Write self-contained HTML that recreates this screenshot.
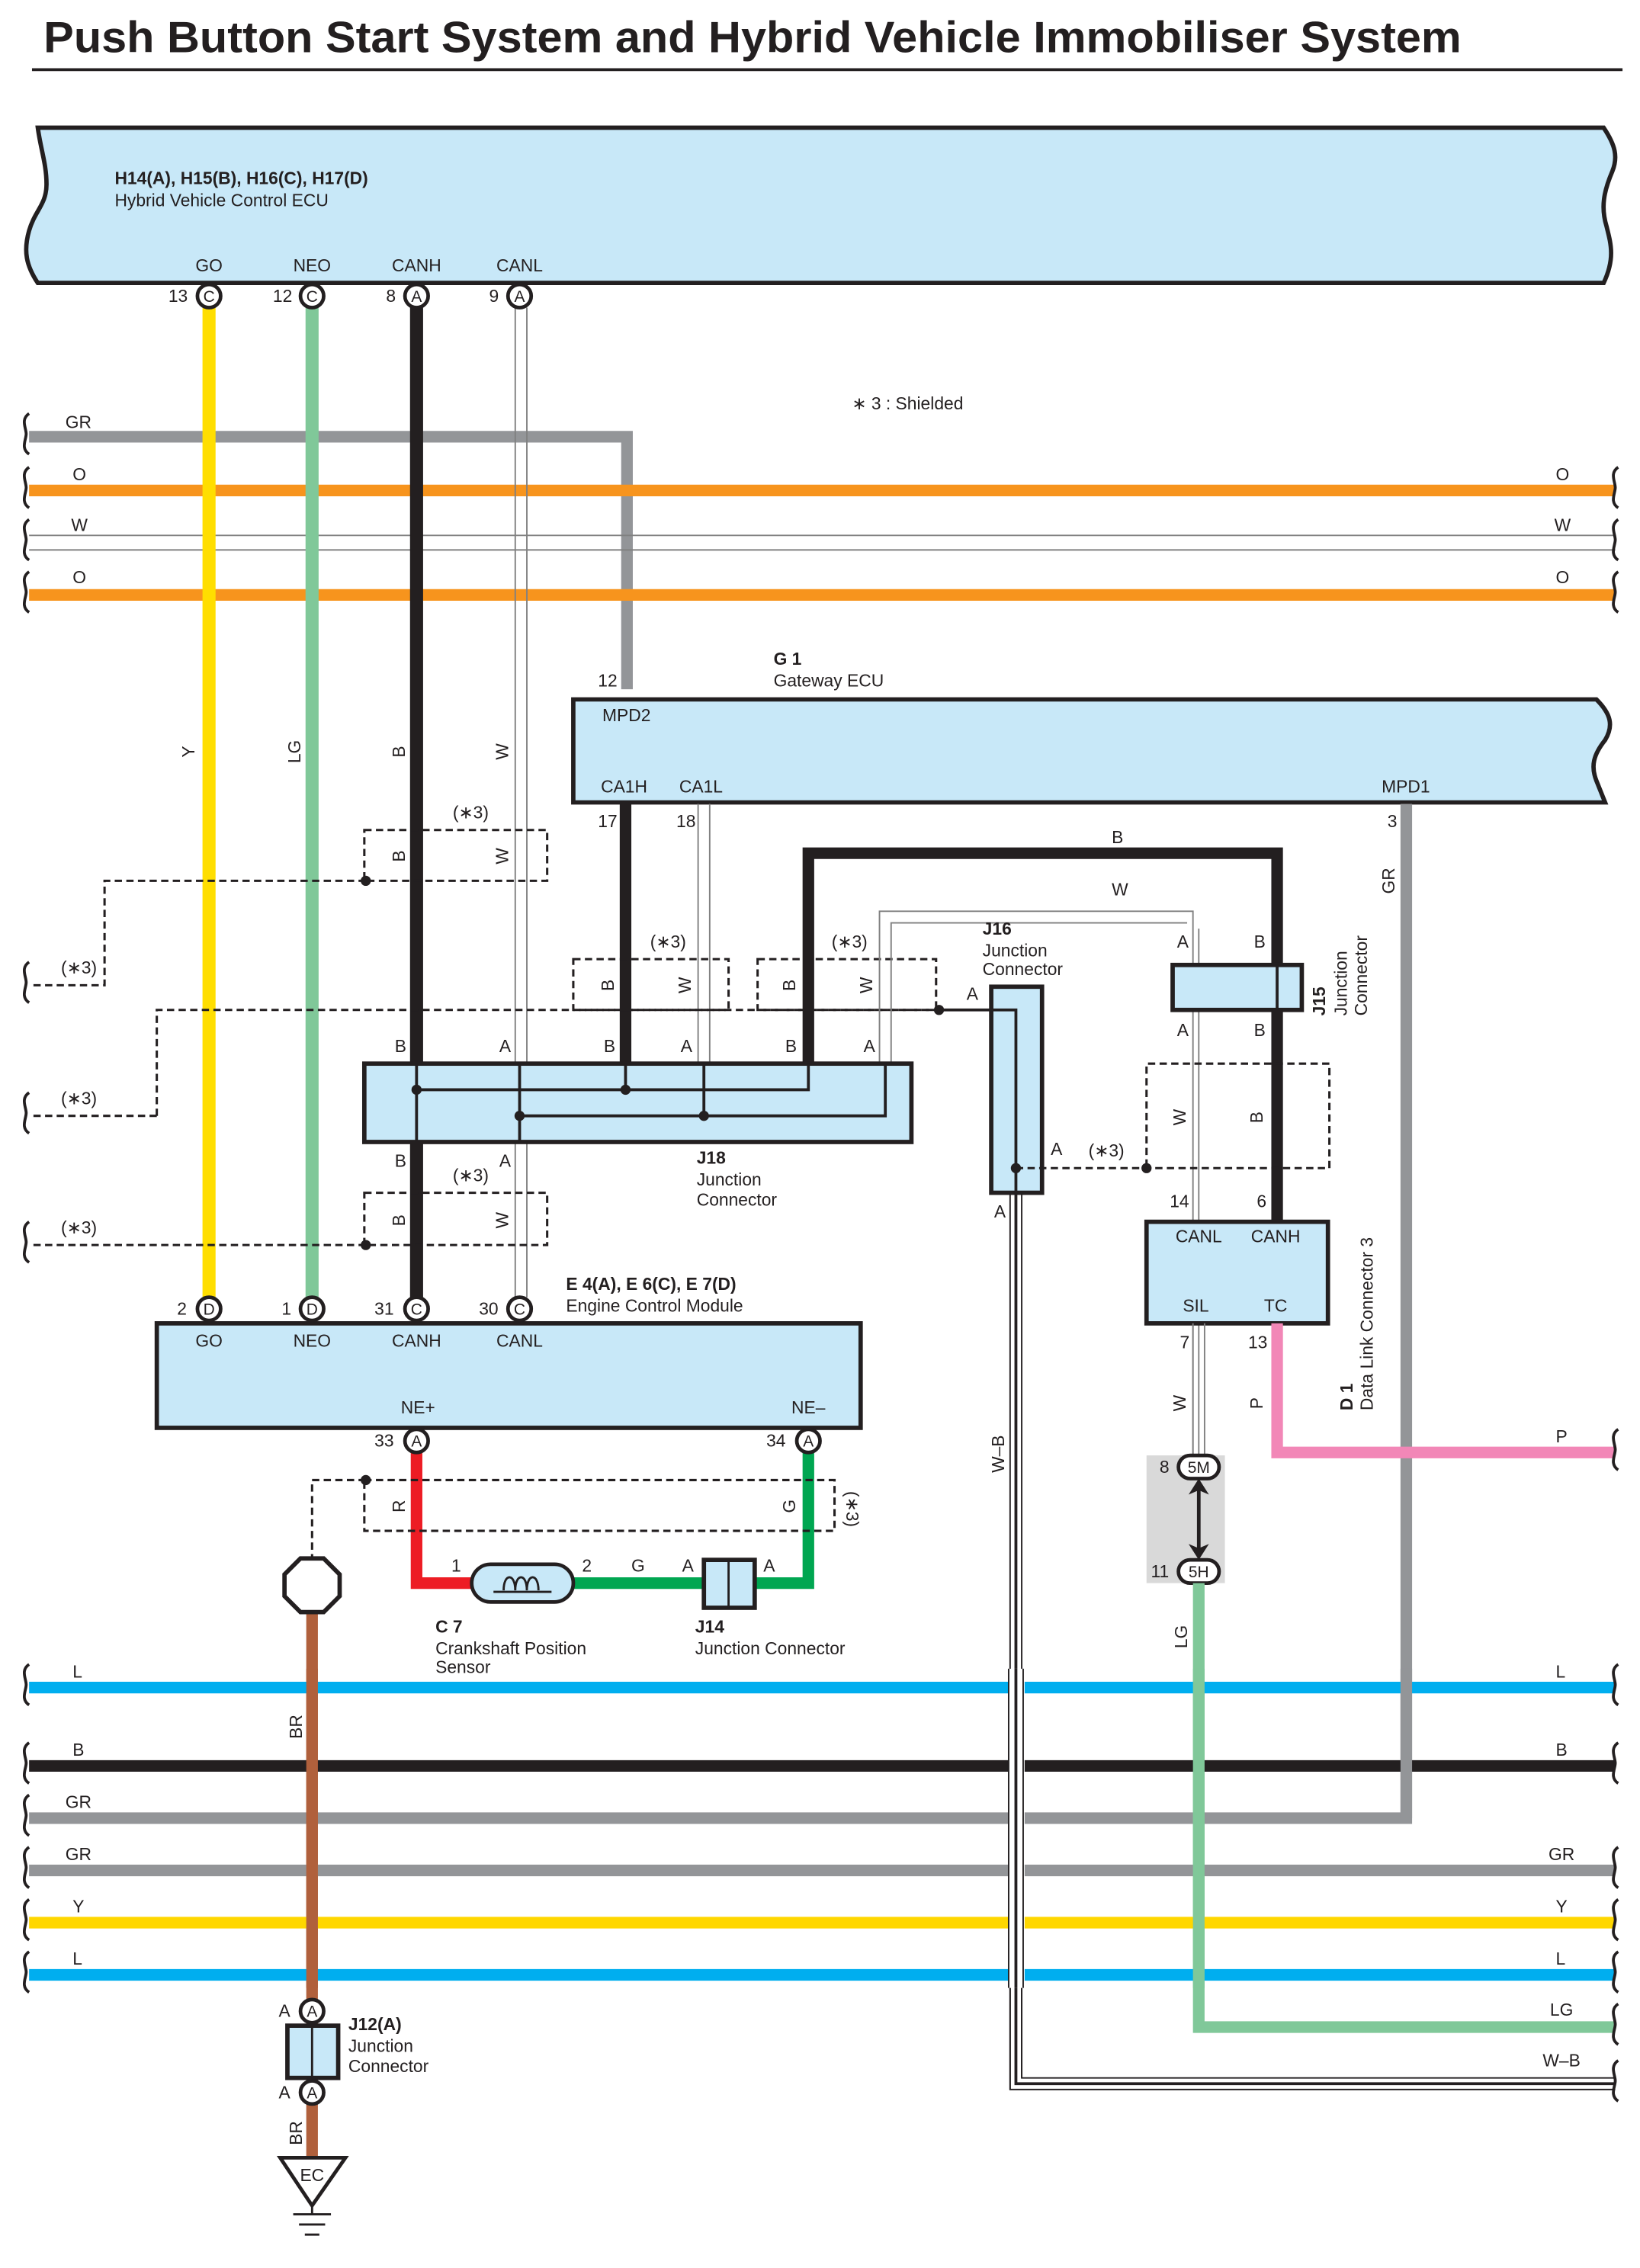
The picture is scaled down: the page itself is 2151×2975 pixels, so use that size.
<!DOCTYPE html>
<html><head><meta charset="utf-8"><style>
html,body{margin:0;padding:0;background:#fff}
svg{display:block}
text{font-family:"Liberation Sans",Arial,sans-serif;font-size:12px;fill:#231f20}
.b{font-weight:bold}
.c{text-anchor:middle}
.box{fill:#c8e8f8;stroke:#231f20;stroke-width:3}
.dash{fill:none;stroke:#231f20;stroke-width:1.6;stroke-dasharray:5,3}
.brk{fill:none;stroke:#231f20;stroke-width:2}
</style></head><body>
<svg width="2151" height="2975" viewBox="0 0 1130 1563" xmlns="http://www.w3.org/2000/svg">
<defs>
<g id="brk"><path class="brk" d="M0,-16 c-6,4 -2,10 -2,14 c0,4 -4,10 2,14"/></g>
</defs>
<text x="30" y="36" class="b" style="font-size:30px" textLength="977" lengthAdjust="spacingAndGlyphs">Push Button Start System and Hybrid Vehicle Immobiliser System</text>
<line x1="22" y1="48" x2="1118" y2="48" stroke="#231f20" stroke-width="2"/>

<!-- HV ECU -->
<path class="box" d="M26,88 H1105 c8,12 10,20 6,30 c-6,14 -8,25 -4,38 c3,12 6,22 -2,39 H26 c-8,-12 -10,-22 -6,-36 c4,-14 12,-18 12,-32 c0,-14 -4,-24 -6,-39 Z"/>
<text x="79" y="127" class="b">H14(A), H15(B), H16(C), H17(D)</text>
<text x="79" y="142">Hybrid Vehicle Control ECU</text>
<text x="144" y="187" class="c">GO</text><text x="215" y="187" class="c">NEO</text>
<text x="287" y="187" class="c">CANH</text><text x="358" y="187" class="c">CANL</text>

<!-- horizontal top wires -->
<path d="M20,301 H432 V475" fill="none" stroke="#939598" stroke-width="8"/>
<line x1="20" y1="338" x2="1113" y2="338" stroke="#f7941d" stroke-width="8"/>
<line x1="20" y1="369" x2="1113" y2="369" stroke="#808080" stroke-width="1"/>
<line x1="20" y1="379" x2="1113" y2="379" stroke="#808080" stroke-width="1"/>
<line x1="20" y1="410" x2="1113" y2="410" stroke="#f7941d" stroke-width="8"/>
<text x="45" y="295">GR</text><text x="50" y="331">O</text><text x="49" y="366">W</text><text x="50" y="402">O</text>
<text x="1072" y="331">O</text><text x="1071" y="366">W</text><text x="1072" y="402">O</text>
<use href="#brk" x="20" y="301"/><use href="#brk" x="20" y="338"/><use href="#brk" x="20" y="374"/><use href="#brk" x="20" y="410"/>
<use href="#brk" x="1115" y="338"/><use href="#brk" x="1115" y="374"/><use href="#brk" x="1115" y="410"/>
<text x="587" y="282">∗ 3 : Shielded</text>

<!-- vertical wires -->
<line x1="144" y1="212" x2="144" y2="894" stroke="#ffde00" stroke-width="9"/>
<line x1="215" y1="212" x2="215" y2="894" stroke="#80c899" stroke-width="9"/>
<line x1="287" y1="212" x2="287" y2="894" stroke="#231f20" stroke-width="9"/>
<line x1="355" y1="212" x2="355" y2="894" stroke="#808080" stroke-width="1"/>
<line x1="363" y1="212" x2="363" y2="894" stroke="#808080" stroke-width="1"/>
<text transform="translate(134,518) rotate(-90)" class="c">Y</text>
<text transform="translate(207,518) rotate(-90)" class="c">LG</text>
<text transform="translate(279,518) rotate(-90)" class="c">B</text>
<text transform="translate(350,518) rotate(-90)" class="c">W</text>

<!-- top pins -->
<g stroke="#231f20" stroke-width="2.5" fill="#fff">
<circle cx="144" cy="204" r="8"/><circle cx="215" cy="204" r="8"/><circle cx="287" cy="204" r="8"/><circle cx="358" cy="204" r="8"/>
</g>
<text x="144" y="208" class="c" style="font-size:11px">C</text><text x="215" y="208" class="c" style="font-size:11px">C</text>
<text x="287" y="208" class="c" style="font-size:11px">A</text><text x="358" y="208" class="c" style="font-size:11px">A</text>
<text x="116" y="208">13</text><text x="188" y="208">12</text><text x="266" y="208">8</text><text x="337" y="208">9</text>

<!-- Gateway -->
<path class="box" d="M395,482 H1100 c10,10 12,18 6,28 c-8,10 -10,18 -6,28 l6,15 H395 Z"/>
<text x="533" y="458" class="b">G 1</text><text x="533" y="473">Gateway ECU</text>
<text x="412" y="473">12</text><text x="415" y="497">MPD2</text>
<text x="414" y="546">CA1H</text><text x="468" y="546">CA1L</text><text x="952" y="546">MPD1</text>
<text x="412" y="570">17</text><text x="466" y="570">18</text><text x="956" y="570">3</text>
<line x1="431" y1="554" x2="431" y2="733" stroke="#231f20" stroke-width="8"/>
<line x1="481" y1="554" x2="481" y2="733" stroke="#808080" stroke-width="1"/>
<line x1="489" y1="554" x2="489" y2="733" stroke="#808080" stroke-width="1"/>
<path d="M969,554 V1253 H20" fill="none" stroke="#939598" stroke-width="8"/>
<text transform="translate(961,607) rotate(-90)" class="c">GR</text>

<!-- shields -->
<rect class="dash" x="251" y="572" width="126" height="35" fill="none"/>
<text x="312" y="564">(∗3)</text>
<text transform="translate(279,590) rotate(-90)" class="c">B</text><text transform="translate(350,590) rotate(-90)" class="c">W</text>
<path class="dash" d="M252,607 H72 V679 H20"/><circle cx="252" cy="607" r="3.5" fill="#231f20"/>
<text x="42" y="671">(∗3)</text><use href="#brk" x="20" y="679"/>

<rect class="dash" x="395" y="661" width="107" height="35"/>
<text x="448" y="653">(∗3)</text>
<text transform="translate(423,679) rotate(-90)" class="c">B</text><text transform="translate(476,679) rotate(-90)" class="c">W</text>
<rect class="dash" x="522" y="661" width="123" height="35"/>
<text x="573" y="653">(∗3)</text>
<text transform="translate(548,679) rotate(-90)" class="c">B</text><text transform="translate(601,679) rotate(-90)" class="c">W</text>
<path class="dash" d="M108,769 V696 H700"/><circle cx="647" cy="696" r="3.5" fill="#231f20"/>
<path class="dash" d="M108,769 H20"/><text x="42" y="761">(∗3)</text><use href="#brk" x="20" y="769"/>

<!-- B / W to J15 -->
<path d="M557,733 V588 H880 V843" fill="none" stroke="#231f20" stroke-width="8"/>
<path d="M606,733 V628 H822 V1003 M614,733 V636 H818" fill="none" stroke="#808080" stroke-width="1"/>
<line x1="826" y1="640" x2="826" y2="1003" stroke="#808080" stroke-width="1"/>
<text x="766" y="581">B</text><text x="766" y="617">W</text>

<!-- J18 -->
<rect class="box" x="251" y="733" width="377" height="54"/>
<path d="M287,733 V787 M287,751 H557 V733 M358,733 V787 M358,769 H610 V733 M431,733 V751 M485,733 V769" fill="none" stroke="#231f20" stroke-width="2"/>
<g fill="#231f20"><circle cx="287" cy="751" r="3.5"/><circle cx="358" cy="769" r="3.5"/><circle cx="431" cy="751" r="3.5"/><circle cx="485" cy="769" r="3.5"/></g>
<text x="272" y="725">B</text><text x="344" y="725">A</text><text x="416" y="725">B</text><text x="469" y="725">A</text><text x="541" y="725">B</text><text x="595" y="725">A</text>
<text x="272" y="804">B</text><text x="344" y="804">A</text>
<text x="480" y="802" class="b">J18</text><text x="480" y="817">Junction</text><text x="480" y="831">Connector</text>

<rect class="dash" x="251" y="822" width="126" height="36"/>
<text x="312" y="814">(∗3)</text>
<text transform="translate(279,841) rotate(-90)" class="c">B</text><text transform="translate(350,841) rotate(-90)" class="c">W</text>
<path class="dash" d="M252,858 H20"/><circle cx="252" cy="858" r="3.5" fill="#231f20"/>
<text x="42" y="850">(∗3)</text><use href="#brk" x="20" y="858"/>

<!-- J16 & W-B -->
<path d="M696,822 V1440 H1113 M704,822 V1432 H1113" fill="none" stroke="#231f20" stroke-width="1"/>
<rect x="697" y="1160" width="6" height="272" fill="#fff"/>
<rect class="box" x="683" y="680" width="35" height="142"/>
<path d="M647,696 H700 V1436 H1113" fill="none" stroke="#231f20" stroke-width="2"/>
<path d="M696,1160 V1440 M704,1160 V1432" stroke="#231f20" stroke-width="1"/>
<circle cx="700" cy="805" r="3.5" fill="#231f20"/>
<path class="dash" d="M700,805 H916 V733 H790 V805"/><circle cx="790" cy="805" r="3.5" fill="#231f20"/>
<text x="677" y="644" class="b">J16</text><text x="677" y="659">Junction</text><text x="677" y="672">Connector</text>
<text x="666" y="689">A</text><text x="724" y="796">A</text><text x="685" y="839">A</text>
<text x="750" y="797">(∗3)</text>
<text transform="translate(692,1002) rotate(-90)" class="c">W–B</text>
<text x="1063" y="1424">W–B</text><use href="#brk" x="1115" y="1436"/>

<!-- J15 -->
<rect class="box" x="808" y="665" width="89" height="31"/>
<line x1="880" y1="665" x2="880" y2="696" stroke="#231f20" stroke-width="2"/>
<text x="811" y="653">A</text><text x="864" y="653">B</text><text x="811" y="714">A</text><text x="864" y="714">B</text>
<text transform="translate(913,700) rotate(-90)" class="b">J15</text>
<text transform="translate(928,700) rotate(-90)">Junction</text>
<text transform="translate(942,700) rotate(-90)">Connector</text>
<text transform="translate(817,770) rotate(-90)" class="c">W</text><text transform="translate(870,770) rotate(-90)" class="c">B</text>

<!-- D1 -->
<rect class="box" x="790" y="842" width="125" height="70"/>
<text x="810" y="856">CANL</text><text x="862" y="856">CANH</text><text x="815" y="904">SIL</text><text x="871" y="904">TC</text>
<text x="806" y="832">14</text><text x="866" y="832">6</text><text x="813" y="929">7</text><text x="860" y="929">13</text>
<text transform="translate(932,972) rotate(-90)" class="b">D 1</text>
<text transform="translate(946,972) rotate(-90)">Data Link Connector 3</text>
<path d="M880,912 V1001 H1113" fill="none" stroke="#f287b7" stroke-width="8"/>
<text x="1072" y="994">P</text><use href="#brk" x="1115" y="1001"/>
<text transform="translate(817,967) rotate(-90)" class="c">W</text><text transform="translate(870,967) rotate(-90)" class="c">P</text>
<rect x="790" y="1003" width="54" height="88" fill="#d9d9d9"/>
<path d="M822,912 V1003 M830,912 V1003" stroke="#808080" stroke-width="1"/>
<rect x="812" y="1003" width="28" height="16" rx="8" fill="#fff" stroke="#231f20" stroke-width="2.5"/>
<text x="826" y="1015" class="c" style="font-size:11px">5M</text>
<rect x="812" y="1075" width="28" height="16" rx="8" fill="#fff" stroke="#231f20" stroke-width="2.5"/>
<text x="826" y="1087" class="c" style="font-size:11px">5H</text>
<text x="799" y="1015">8</text><text x="793" y="1087">11</text>
<line x1="826" y1="1026" x2="826" y2="1068" stroke="#231f20" stroke-width="2.5"/>
<path d="M819,1030 L826,1019 L833,1030 L826,1027 Z M819,1064 L826,1075 L833,1064 L826,1067 Z" fill="#231f20"/>
<path d="M826,1091 V1397 H1113" fill="none" stroke="#80c899" stroke-width="8"/>
<text transform="translate(818,1128) rotate(-90)" class="c">LG</text>
<text x="1068" y="1389">LG</text><use href="#brk" x="1115" y="1397"/>

<!-- ECM -->
<rect class="box" x="108" y="912" width="485" height="72"/>
<text x="390" y="889" class="b">E 4(A), E 6(C), E 7(D)</text><text x="390" y="904">Engine Control Module</text>
<text x="144" y="928" class="c">GO</text><text x="215" y="928" class="c">NEO</text><text x="287" y="928" class="c">CANH</text><text x="358" y="928" class="c">CANL</text>
<text x="288" y="974" class="c">NE+</text><text x="557" y="974" class="c">NE–</text>
<g stroke="#231f20" stroke-width="2.5" fill="#fff">
<circle cx="144" cy="902" r="8"/><circle cx="215" cy="902" r="8"/><circle cx="287" cy="902" r="8"/><circle cx="358" cy="902" r="8"/>
</g>
<text x="144" y="906" class="c" style="font-size:11px">D</text><text x="215" y="906" class="c" style="font-size:11px">D</text>
<text x="287" y="906" class="c" style="font-size:11px">C</text><text x="358" y="906" class="c" style="font-size:11px">C</text>
<text x="122" y="906">2</text><text x="194" y="906">1</text><text x="258" y="906">31</text><text x="330" y="906">30</text>

<!-- crank -->
<path d="M287,1001 V1091 H325" fill="none" stroke="#ed1c24" stroke-width="8"/>
<path d="M395,1091 H557 V1001" fill="none" stroke="#00a651" stroke-width="8"/>
<g stroke="#231f20" stroke-width="2.5" fill="#fff">
<circle cx="287" cy="993" r="8"/><circle cx="557" cy="993" r="8"/>
</g>
<text x="287" y="997" class="c" style="font-size:11px">A</text><text x="557" y="997" class="c" style="font-size:11px">A</text>
<text x="258" y="997">33</text><text x="528" y="997">34</text>
<rect class="dash" x="251" y="1020" width="324" height="35"/>
<path class="dash" d="M252,1020 H215 V1075"/><circle cx="252" cy="1020" r="3.5" fill="#231f20"/>
<text transform="translate(279,1038) rotate(-90)" class="c">R</text><text transform="translate(548,1038) rotate(-90)" class="c">G</text>
<text transform="translate(583,1040) rotate(90)" class="c">(∗3)</text>
<rect x="325" y="1078" width="70" height="26" rx="13" fill="#c8e8f8" stroke="#231f20" stroke-width="2.5"/>
<path d="M347,1096 c0,-12 8,-12 8,0 c0,-12 8,-12 8,0 c0,-12 8,-12 8,0" fill="none" stroke="#231f20" stroke-width="1.5"/>
<line x1="340" y1="1097" x2="380" y2="1097" stroke="#231f20" stroke-width="1.5"/>
<rect class="box" x="485" y="1075" width="35" height="33"/>
<line x1="502" y1="1075" x2="502" y2="1108" stroke="#231f20" stroke-width="1.5"/>
<text x="311" y="1083">1</text><text x="401" y="1083">2</text><text x="435" y="1083">G</text><text x="470" y="1083">A</text><text x="526" y="1083">A</text>
<text x="300" y="1125" class="b">C 7</text><text x="300" y="1140">Crankshaft Position</text><text x="300" y="1153">Sensor</text>
<text x="479" y="1125" class="b">J14</text><text x="479" y="1140">Junction Connector</text>

<!-- BR -->
<line x1="215" y1="1110" x2="215" y2="1487" stroke="#b0603c" stroke-width="8"/>
<polygon points="207,1074 223,1074 234,1085 234,1100 223,1111 207,1111 196,1100 196,1085" fill="#fff" stroke="#231f20" stroke-width="3"/>
<text transform="translate(208,1190) rotate(-90)" class="c">BR</text>

<!-- bottom horizontal wires -->
<line x1="20" y1="1163" x2="1113" y2="1163" stroke="#00aeef" stroke-width="8"/>
<line x1="20" y1="1217" x2="1113" y2="1217" stroke="#231f20" stroke-width="8"/>
<line x1="20" y1="1289" x2="1113" y2="1289" stroke="#939598" stroke-width="8"/>
<line x1="20" y1="1325" x2="1113" y2="1325" stroke="#ffd700" stroke-width="8"/>
<line x1="20" y1="1361" x2="1113" y2="1361" stroke="#00aeef" stroke-width="8"/>
<rect x="695" y="1150" width="11" height="220" fill="#fff"/>
<path d="M695,1150 V1370 M705,1150 V1370" stroke="#231f20" stroke-width="1"/>
<line x1="700" y1="1150" x2="700" y2="1370" stroke="#231f20" stroke-width="2"/>
<line x1="826" y1="1150" x2="826" y2="1370" stroke="#80c899" stroke-width="8"/>
<line x1="969" y1="1150" x2="969" y2="1253" stroke="#939598" stroke-width="8"/>
<line x1="215" y1="1150" x2="215" y2="1370" stroke="#b0603c" stroke-width="8"/>
<text x="50" y="1156">L</text><text x="50" y="1210">B</text><text x="45" y="1246">GR</text><text x="45" y="1282">GR</text><text x="50" y="1318">Y</text><text x="50" y="1354">L</text>
<text x="1072" y="1156">L</text><text x="1072" y="1210">B</text><text x="1067" y="1282">GR</text><text x="1072" y="1318">Y</text><text x="1072" y="1354">L</text>
<use href="#brk" x="20" y="1163"/><use href="#brk" x="20" y="1217"/><use href="#brk" x="20" y="1253"/><use href="#brk" x="20" y="1289"/><use href="#brk" x="20" y="1325"/><use href="#brk" x="20" y="1361"/>
<use href="#brk" x="1115" y="1163"/><use href="#brk" x="1115" y="1217"/><use href="#brk" x="1115" y="1289"/><use href="#brk" x="1115" y="1325"/><use href="#brk" x="1115" y="1361"/>

<!-- J12 -->
<rect class="box" x="198" y="1396" width="35" height="36"/>
<line x1="215" y1="1396" x2="215" y2="1432" stroke="#231f20" stroke-width="1.5"/>
<g stroke="#231f20" stroke-width="2.5" fill="#fff"><circle cx="215" cy="1386" r="8"/><circle cx="215" cy="1442" r="8"/></g>
<text x="215" y="1390" class="c" style="font-size:11px">A</text><text x="215" y="1446" class="c" style="font-size:11px">A</text>
<text x="192" y="1390">A</text><text x="192" y="1446">A</text>
<text x="240" y="1399" class="b">J12(A)</text><text x="240" y="1414">Junction</text><text x="240" y="1428">Connector</text>
<text transform="translate(208,1470) rotate(-90)" class="c">BR</text>
<polygon points="193,1487 238,1487 215,1520" fill="#fff" stroke="#231f20" stroke-width="2.5"/>
<text x="215" y="1503" class="c">EC</text>
<path d="M215,1520 V1526 M202,1526 H228 M206,1533 H224 M210,1540 H220" stroke="#231f20" stroke-width="1.5"/>
</svg>
</body></html>
